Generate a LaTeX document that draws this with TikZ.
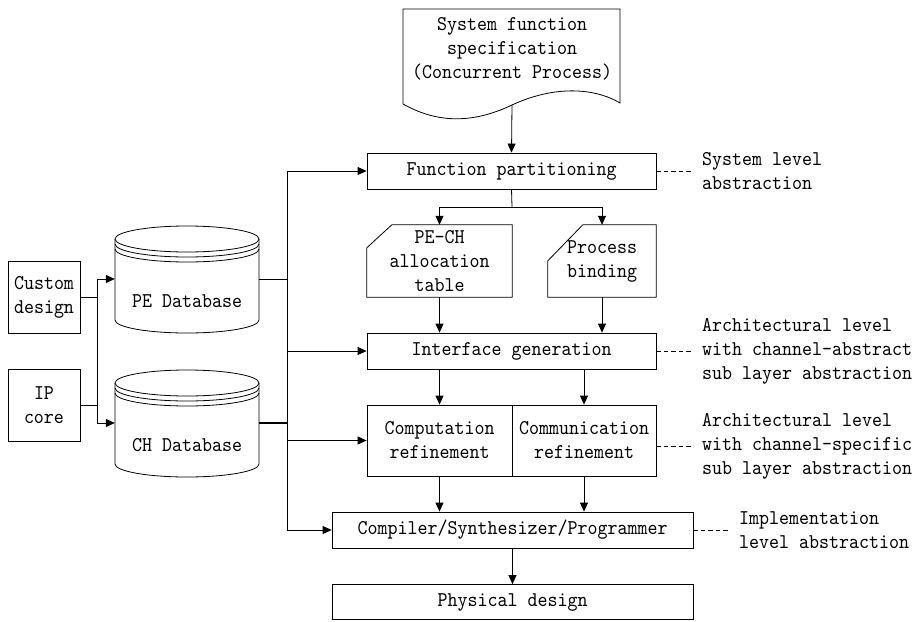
\documentclass[tikz,border=0pt]{standalone}
\usepackage{fontspec}
\newfontfamily\diagfont{lmmono10-regular}[Extension=.otf, FakeStretch=0.907]
\usetikzlibrary{arrows.meta,calc}
\begin{document}
\begin{tikzpicture}[x=1pt,y=-1pt,
  every node/.style={font=\diagfont\fontsize{21}{24}\selectfont, inner sep=0pt},
  conn/.style={line width=0.8pt},
  box/.style={draw, line width=0.8pt, align=center},
  plain/.style={align=center},
  arr/.style={-{Triangle[length=9pt,width=8pt]}, line width=0.8pt},
  lvl/.style={dash pattern=on 4.5pt off 3pt, line width=0.8pt},
  note/.style={anchor=west, align=left},
  database/.pic={
    \draw[conn] (-72,-40) -- (-72,41)
      arc[start angle=180, end angle=360, x radius=72pt, y radius=13pt] -- (72,-40);
    \draw[conn] (0,-40) ellipse[x radius=72pt, y radius=13pt];
    \draw[conn] (-72,-35) arc[start angle=180, end angle=360, x radius=72pt, y radius=13pt];
    \draw[conn] (-72,-30) arc[start angle=180, end angle=360, x radius=72pt, y radius=13pt];
  }
]
\useasboundingbox (0,0) rectangle (923,621);

% specification document with wavy lower edge
\draw[conn] (403,104) -- (403,9) -- (620,9) -- (620,103)
  .. controls (595,88) and (555,85) .. (512,105)
  .. controls (470,125) and (435,122) .. (403,104);
\node[plain] (spec) at (512,49) {System function\\specification\\(Concurrent Process)};
\coordinate (specout) at (512,105);

% main flow
\node[box, minimum width=289pt, minimum height=36pt] (fp) at (511.5,171) {Function partitioning};

\node[plain, minimum width=145pt, minimum height=72pt] (alloc) at (439.5,261) {PE-CH\\allocation\\table};
\draw[conn] ($(alloc.north west)+(25,0)$) -- (alloc.north east) -- (alloc.south east)
  -- (alloc.south west) -- ($(alloc.north west)+(0,23)$) -- cycle;

\node[plain, minimum width=108pt, minimum height=72pt] (bind) at (602,261) {Process\\binding};
\draw[conn] ($(bind.north west)+(35,0)$) -- (bind.north east) -- (bind.south east)
  -- (bind.south west) -- ($(bind.north west)+(0,36)$) -- cycle;

\node[box, minimum width=289pt, minimum height=36pt] (ifg) at (511.5,351) {Interface generation};

\node[box, minimum width=145pt, minimum height=71pt] (comp) at (439.5,440.5) {Computation\\refinement};
\node[box, minimum width=144pt, minimum height=71pt] (comm) at (584,440.5) {Communication\\refinement};

\node[box, minimum width=361pt, minimum height=36pt] (csp) at (512.5,530) {Compiler/Synthesizer/Programmer};
\node[box, minimum width=361pt, minimum height=35pt] (phys) at (512.5,602) {Physical design};

\draw[arr] (specout) -- (fp.north);
\coordinate (split) at (512,207);
\draw[conn] (fp.south) -- (split);
\draw[arr] (split) -| (alloc.north);
\draw[arr] (split) -| (bind.north);
\draw[arr] (alloc.south) -- (alloc.south |- ifg.north);
\draw[arr] (bind.south) -- (bind.south |- ifg.north);
\draw[arr] (comp.north |- ifg.south) -- (comp.north);
\draw[arr] (comm.north |- ifg.south) -- (comm.north);
\draw[arr] (comp.south) -- (comp.south |- csp.north);
\draw[arr] (comm.south) -- (comm.south |- csp.north);
\draw[arr] (csp.south) -- (phys.north);

% sources and libraries
\node[box, minimum width=72pt, minimum height=72pt] (custom) at (44,297) {Custom\\design};
\node[box, minimum width=72pt, minimum height=72pt] (ip) at (44,405) {IP\\core};

\node[minimum width=144pt, minimum height=108pt] (pe) at (187,279) {};
\pic at (pe.center) {database};
\node (petext) at (187,301) {PE Database};
\node[minimum width=144pt, minimum height=108pt] (ch) at (187,423) {};
\pic at (ch.center) {database};
\node (chtext) at (187,445) {CH Database};

\coordinate (mtop) at (97,279);
\coordinate (mbot) at (97,423);
\draw[conn] (custom.east) -- (custom.east -| mtop);
\draw[conn] (ip.east) -- (ip.east -| mtop);
\draw[conn] (mtop) -- (mbot);
\draw[arr] (mtop) -- (pe.west);
\draw[arr] (mbot) -- (ch.west);

% library bus feeding every design step
\coordinate (btop) at (287,171);
\coordinate (bbot) at (287,530);
\draw[conn] (btop) -- (bbot);
\draw[conn] (pe.east) -- (pe.east -| btop);
\draw[line width=1.6pt] (ch.east) -- (ch.east -| btop);
\draw[arr] (btop) -- (fp.west);
\draw[arr] (ifg.west -| btop) -- (ifg.west);
\draw[arr] (comp.west -| btop) -- (comp.west);
\draw[arr] (bbot) -- (csp.west);

% abstraction levels
\node[note] (lsys) at (702,171) {System level\\abstraction};
\coordinate (dsys) at (693,171);
\draw[lvl] (fp.east) -- (dsys);

\node[note] (larch1) at (702,351) {Architectural level\\with channel-abstract\\sub layer abstraction};
\coordinate (darch1) at (693,351);
\draw[lvl] (ifg.east) -- (darch1);

\node[note] (larch2) at (702,446) {Architectural level\\with channel-specific\\sub layer abstraction};
\coordinate (darch2) at (693,446);
\draw[lvl] (darch2 -| comm.east) -- (darch2);

\node[note] (limpl) at (739,530) {Implementation\\level abstraction};
\coordinate (dimpl) at (729,530);
\draw[lvl] (csp.east) -- (dimpl);
\end{tikzpicture}
\end{document}
